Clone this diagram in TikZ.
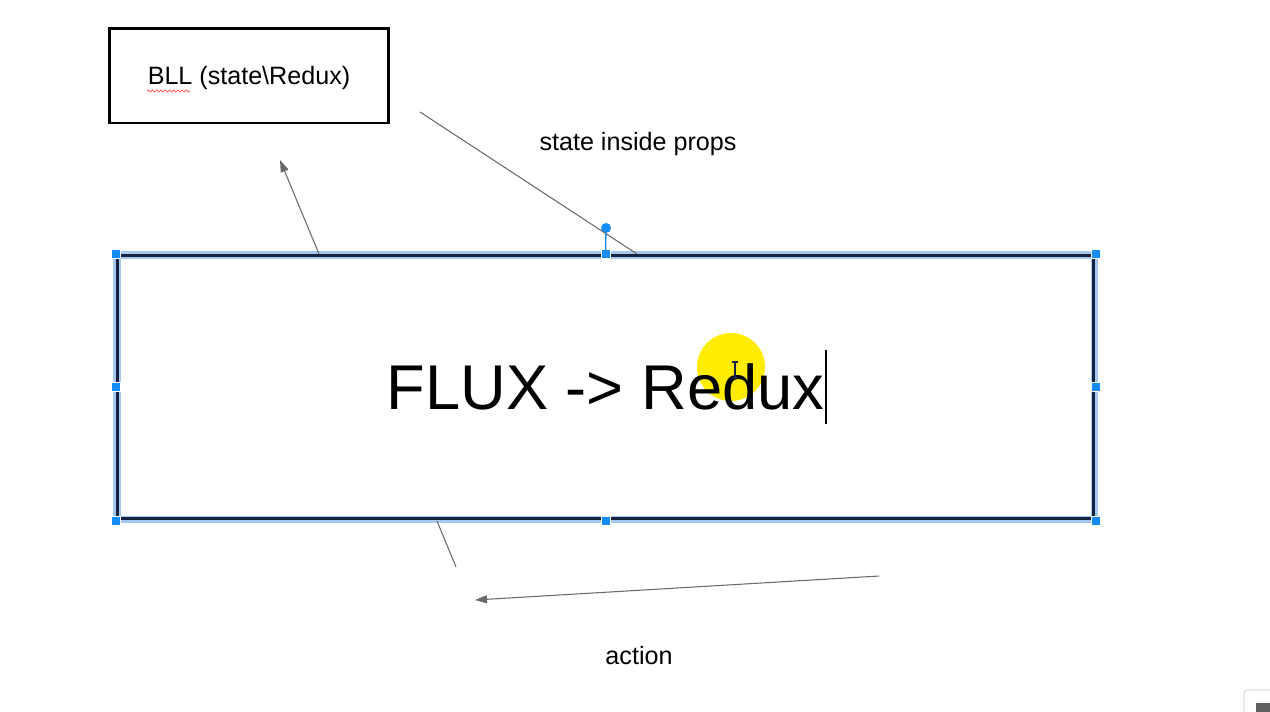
\documentclass[tikz,border=0pt]{standalone}
\usepackage{fontspec}
\setmainfont{Liberation Sans}
\usetikzlibrary{arrows.meta,positioning,calc,decorations.pathmorphing}
\definecolor{handleblue}{RGB}{20,140,250}
\definecolor{selblue}{RGB}{165,200,242}
\definecolor{framenavy}{RGB}{22,34,64}
\definecolor{linegray}{RGB}{105,105,105}
\definecolor{hiyellow}{RGB}{255,236,0}

\begin{document}
\begin{tikzpicture}[
    x=0.02cm, y=-0.02cm,
    labeltext/.style={font=\fontsize{14.3}{17}\selectfont, inner sep=0pt},
    layerbox/.style={rectangle, draw, line width=1.7pt, minimum width=5.6cm, minimum height=1.9cm, text depth=0pt, font=\fontsize{14.3}{17}\selectfont},
    selbox/.style={rectangle, draw=framenavy, line width=1.7pt, minimum width=19.54cm, minimum height=5.28cm, font=\fontsize{36}{40}\selectfont},
    handle/.style={rectangle, fill=handleblue, draw=white, line width=0.3pt, minimum size=0.18cm, inner sep=0pt},
    link/.style={draw=linegray, line width=0.6pt},
    arrow/.style={link, -{Triangle[length=0.24cm, width=0.16cm]}}
]
\useasboundingbox (0,0) rectangle (1270,711);
\clip (0,0) rectangle (1270,711);

% Pointer highlight
\fill[hiyellow] (731,367) circle[radius=0.68cm];

% BLL box
\node[layerbox] (bll) at (249,75.5) {BLL (state\textbackslash Redux)};
\draw[red!70, line width=0.4pt, decorate, decoration={snake, amplitude=0.6pt, segment length=2.4pt}]
    (147,91) -- (190,91);

% Selected box
\draw[selblue, line width=4pt] (117,255) rectangle (1094,519);
\node[selbox] (flux) at (605.5,387) {FLUX -> Redux};

% Text cursor
\draw[black, line width=1pt] (826,350) -- (826,424);
\draw[framenavy, line width=0.6pt] (735,362) -- (735,378)
    (732,362) -- (738,362) (732,378) -- (738,378);

% Selection handles
\foreach \pos in {north west, north, north east, west, east, south west, south, south east}
    \node[handle] at (flux.\pos) {};
\node[circle, fill=handleblue, minimum size=0.2cm, inner sep=0pt] (rot) at (606,228) {};
\draw[handleblue, line width=0.8pt] (rot) -- (flux.north);

% Free ends
\coordinate (up_tail) at (319,254);
\coordinate (up_tip) at (280,160);
\coordinate (props_start) at (420,112);
\coordinate (props_end) at (637,254);
\coordinate (down_start) at (437,521);
\coordinate (down_end) at (456,567);
\coordinate (act_tail) at (879,576);
\coordinate (act_tip) at (475,600);

% Connectors
\draw[arrow] (up_tail) -- (up_tip);
\draw[link] (props_start) -- (props_end);
\draw[link] (down_start) -- (down_end);
\draw[arrow] (act_tail) -- (act_tip);

% Labels
\node[labeltext] (props) at (638,144) {state inside props};
\node[labeltext] (action) at (639,656) {action};

% Corner widget
\draw[gray!25, line width=0.8pt, rounded corners=2pt] (1244,690) rectangle (1290,730);
\fill[gray!75!black] (1256,703) rectangle (1280,720);

\end{tikzpicture}
\end{document}
